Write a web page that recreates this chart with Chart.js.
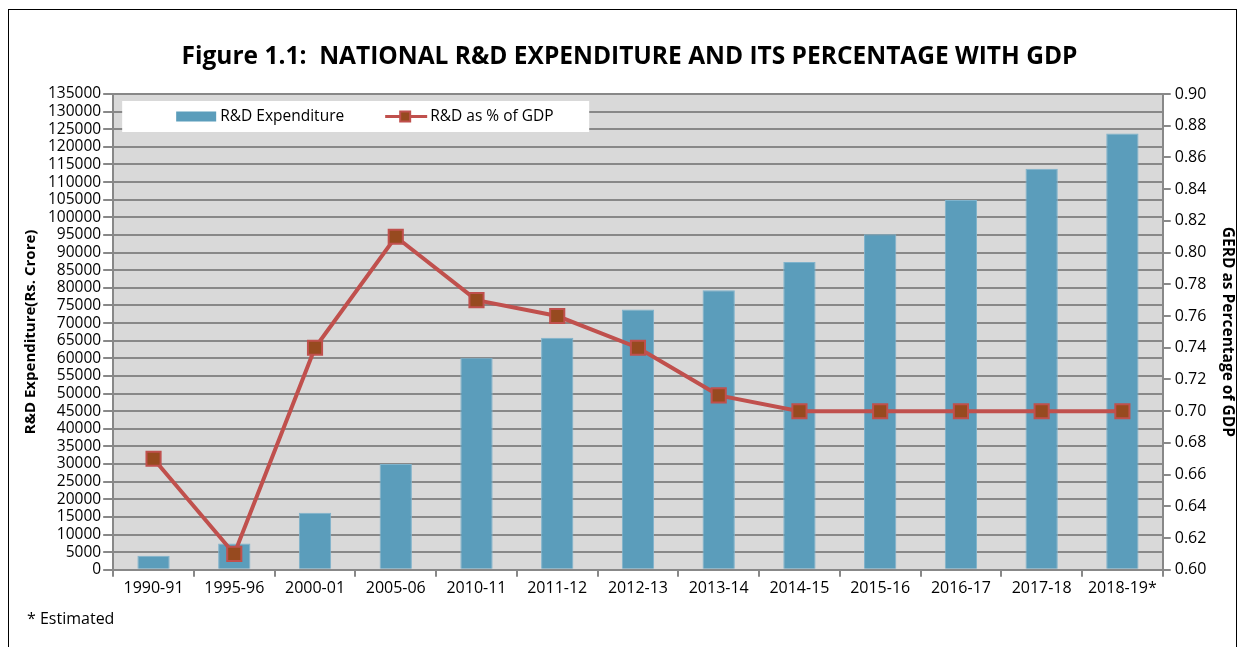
<!DOCTYPE html>
<html><head><meta charset="utf-8">
<script src="https://cdn.jsdelivr.net/npm/chart.js@4.4.1/dist/chart.umd.min.js"></script>
<style>
html,body{margin:0;padding:0;background:#fff;}
#wrap{position:relative;width:1245px;height:647px;}
#frame{position:absolute;left:8px;top:9px;width:1229px;height:660px;border:1px solid #000;box-sizing:border-box;}
#c{position:absolute;left:0;top:0;}
#note{position:absolute;left:27px;top:607px;font:16px "Open Sans",sans-serif;color:#000;}
</style></head>
<body><div id="wrap"><div id="frame"></div><canvas id="c" width="1245" height="647"></canvas><div id="note">* Estimated</div></div>
<script>
const categories = ["1990-91","1995-96","2000-01","2005-06","2010-11","2011-12","2012-13","2013-14","2014-15","2015-16","2016-17","2017-18","2018-19*"];
const expenditure = [3974, 7483, 16198, 30000, 60196, 65862, 73851, 79300, 87300, 95200, 104900, 113800, 123800];
const pctGDP = [0.67, 0.61, 0.74, 0.81, 0.77, 0.76, 0.74, 0.71, 0.70, 0.70, 0.70, 0.70, 0.70];
const titleText = "Figure 1.1:  NATIONAL R&D EXPENDITURE AND ITS PERCENTAGE WITH GDP";
const leftTitle = "R&D Expenditure(Rs. Crore)";
const rightTitle = "GERD as Percentage of GDP";
const seriesNames = ["R&D Expenditure", "R&D as % of GDP"];

const FONT = '"Open Sans", sans-serif';
const BAR = '#5b9dbb', LINE = '#c0504d', MARK = '#974a1f', GRID = '#888888';

const bgPlugin = {
  id: 'bg',
  beforeDraw(chart) {
    const {ctx, chartArea: a} = chart;
    ctx.save(); ctx.fillStyle = '#d9d9d9';
    ctx.fillRect(a.left, a.top, a.right - a.left, a.bottom - a.top);
    ctx.restore();
  }
};
const legendPlugin = {
  id: 'boxLegend',
  beforeDatasetsDraw(chart) {
    const {ctx, chartArea: a} = chart;
    const x0 = a.left + 9, y0 = a.top + 7;
    ctx.save();
    ctx.fillStyle = '#fff';
    ctx.fillRect(x0, y0, 467, 31);
    const cy = y0 + 15.5;
    ctx.fillStyle = BAR;
    ctx.fillRect(x0 + 54, cy - 5, 40, 10);
    ctx.font = '15.5px ' + FONT; ctx.fillStyle = '#000'; ctx.textBaseline = 'middle';
    ctx.fillText(seriesNames[0], x0 + 98, cy);
    ctx.strokeStyle = LINE; ctx.lineWidth = 3;
    ctx.beginPath(); ctx.moveTo(x0 + 263, cy); ctx.lineTo(x0 + 305, cy); ctx.stroke();
    ctx.fillStyle = MARK; ctx.lineWidth = 2;
    ctx.fillRect(x0 + 278, cy - 5, 10, 10); ctx.strokeRect(x0 + 278, cy - 5, 10, 10);
    ctx.fillStyle = '#000';
    ctx.fillText(seriesNames[1], x0 + 308, cy);
    ctx.restore();
  }
};

new Chart(document.getElementById('c'), {
  data: {
    labels: categories,
    datasets: [
      { type: 'line', label: seriesNames[1], data: pctGDP, yAxisID: 'y1', order: 0,
        borderColor: LINE, borderWidth: 4, pointStyle: 'rect', pointRadius: 10,
        pointBackgroundColor: MARK, pointBorderColor: LINE, pointBorderWidth: 2, tension: 0 },
      { type: 'bar', label: seriesNames[0], data: expenditure, yAxisID: 'y', order: 1,
        backgroundColor: BAR, borderColor: '#7fb3cc', borderWidth: 1,
        barPercentage: 0.4, categoryPercentage: 1.0 }
    ]
  },
  options: {
    responsive: false, animation: false,
    layout: { padding: { left: 22, right: 8, top: 0, bottom: 47 } },
    plugins: {
      legend: { display: false }, tooltip: { enabled: false },
      title: { display: true, text: titleText, color: '#000',
        font: { family: FONT, size: 24.5, weight: 'bold' }, padding: { top: 42, bottom: 22.6 } }
    },
    scales: {
      x: {
        grid: { offset: true, drawOnChartArea: false, color: GRID, lineWidth: 2, tickLength: 7 },
        border: { color: GRID, width: 2 },
        ticks: { color: '#000', font: { family: FONT, size: 16 }, padding: 2, maxRotation: 0, autoSkip: false }
      },
      y: {
        position: 'left', min: 0, max: 135000,
        grid: { color: GRID, lineWidth: 2, tickLength: 10 },
        border: { color: GRID, width: 2 },
        ticks: { stepSize: 5000, color: '#000', font: { family: FONT, size: 15.5 }, padding: 2, autoSkip: false,
          callback: v => String(v) },
        title: { display: true, text: leftTitle, color: '#000', font: { family: FONT, size: 15, weight: 'bold' }, padding: { top: 0, bottom: 6 } }
      },
      y1: {
        position: 'right', min: 0.60, max: 0.90,
        grid: { drawOnChartArea: false, color: GRID, lineWidth: 2, tickLength: 8 },
        border: { color: GRID, width: 2 },
        ticks: { stepSize: 0.02, color: '#000', font: { family: FONT, size: 16 }, padding: 4,
          callback: v => v.toFixed(2) },
        title: { display: true, text: rightTitle, color: '#000', font: { family: FONT, size: 15.5, weight: 'bold' }, padding: { top: 0, bottom: 8 } }
      }
    }
  },
  plugins: [bgPlugin, legendPlugin]
});
</script></body></html>
